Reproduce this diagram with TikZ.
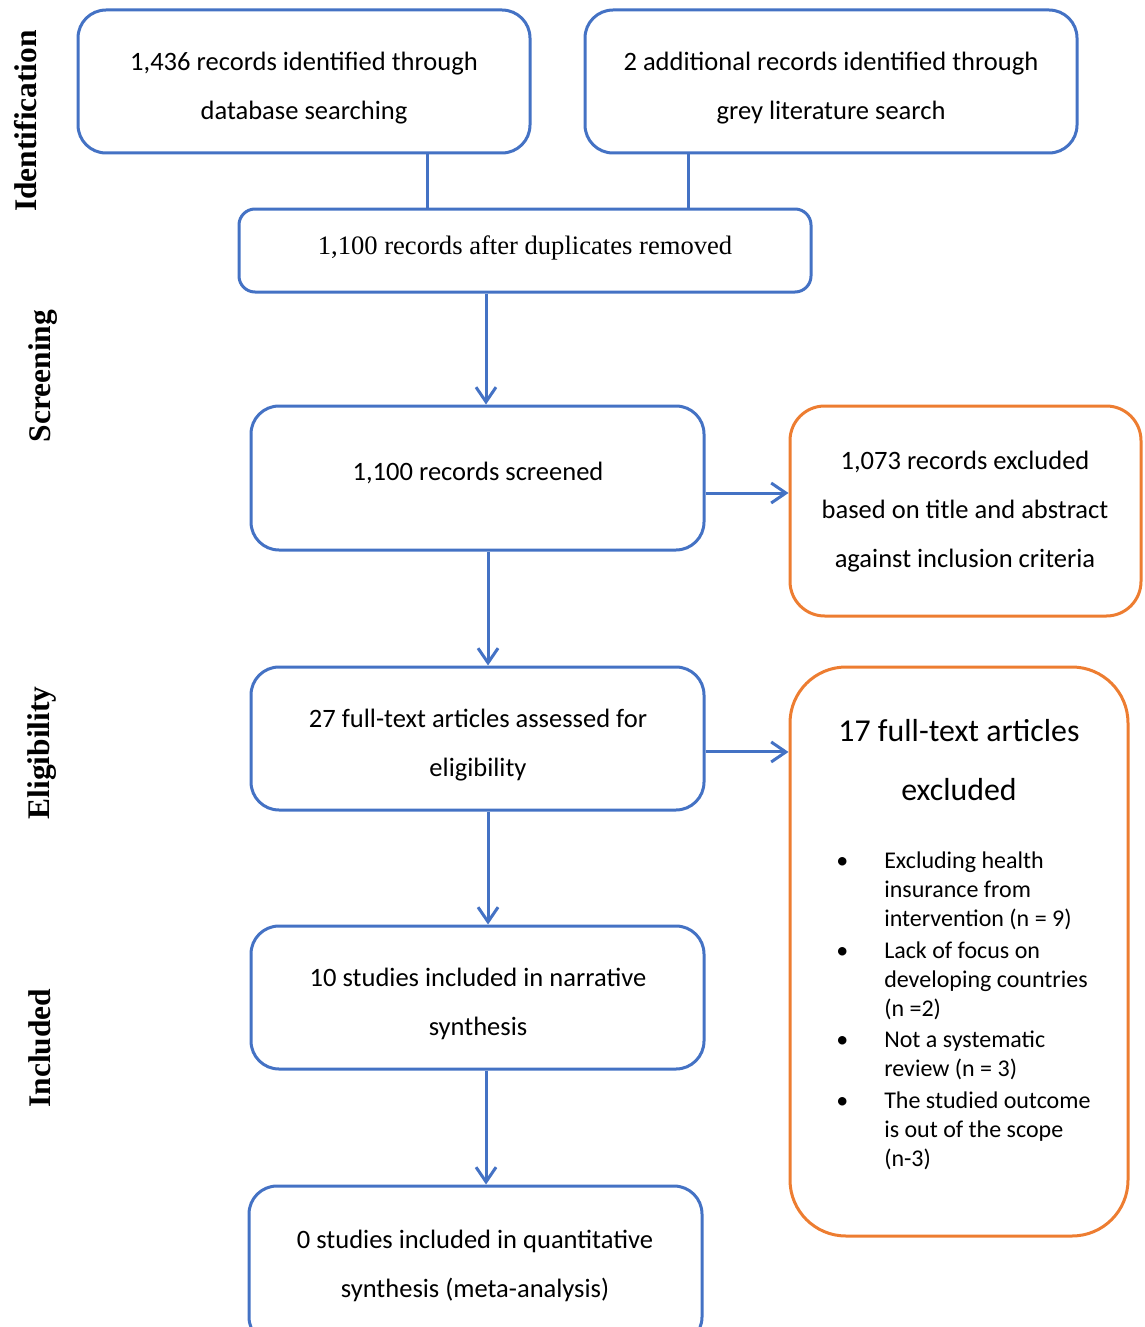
\documentclass[tikz,border=0pt]{standalone}
\usepackage{fontspec}
\setmainfont{Carlito}
\newfontfamily\timesf{Liberation Serif}
\usetikzlibrary{arrows.meta,fit}
\definecolor{pblue}{HTML}{4472C4}
\definecolor{porange}{HTML}{ED7D31}
\begin{document}
\begin{tikzpicture}[x=0.75pt,y=-0.75pt,
  bbox/.style={draw=pblue, line width=2.25pt, rounded corners=21pt, inner sep=0pt},
  obox/.style={draw=porange, line width=2.25pt, rounded corners=26pt, inner sep=0pt},
  txt/.style={align=center, inner sep=0pt, font=\fontsize{19.9}{36.75}\selectfont},
  ttxt/.style={align=center, inner sep=0pt, font=\timesf\fontsize{19.95}{24}\selectfont},
  side/.style={rotate=90, inner sep=0pt, font=\timesf\bfseries\fontsize{23.6}{28}\selectfont},
  link/.style={draw=pblue, line width=2.25pt},
  arr/.style={link, -{Straight Barb[length=11pt,width=15pt]}}
]
\useasboundingbox (0,0) rectangle (1145,1327);

% boxes
\node[bbox, fit={(78,10) (530,153)}] (A) {};
\node[bbox, fit={(585,10) (1077,153)}] (B) {};
\node[bbox, rounded corners=12pt, fit={(239,209) (811,292)}] (C) {};
\node[bbox, fit={(251,406) (704,550)}] (D) {};
\node[obox, fit={(790,406) (1141,616)}] (E) {};
\node[bbox, fit={(251,667) (704,810)}] (F) {};
\node[obox, rounded corners=42pt, fit={(790,667) (1128,1236)}] (G) {};
\node[bbox, fit={(251,926) (704,1069)}] (H) {};
\node[bbox, fit={(249,1186) (702,1345)}] (I) {};

% texts
\node[txt] (At) at (304,88.5) {1,436 records identified through\\database searching};
\node[txt] (Bt) at (831,88.5) {2 additional records identified through\\grey literature search};
\node[ttxt] (Ct) at (525,248) {1,100 records after duplicates removed};
\node[txt] (Dt) at (478,473) {1,100 records screened};
\node[txt] (Et) at (965,512) {1,073 records excluded\\based on title and abstract\\against inclusion criteria};
\node[txt] (Ft) at (478,745.5) {27 full-text articles assessed for\\eligibility};
\node[align=center, inner sep=0pt, font=\fontsize{23.9}{44.25}\selectfont] (Gt) at (959,760.5) {17 full-text articles\\excluded};
\node[anchor=north west, inner sep=0pt, font=\fontsize{18}{21.75}\selectfont] (Glist) at (836,848) {%
\begin{tabular}{@{}p{36pt}@{}l@{}}
\textbullet & Excluding health\\
 & insurance from\\
 & intervention (n = 9)\\[2pt]
\textbullet & Lack of focus on\\
 & developing countries\\
 & (n =2)\\[2pt]
\textbullet & Not a systematic\\
 & review (n = 3)\\[2pt]
\textbullet & The studied outcome\\
 & is out of the scope\\
 & (n-3)
\end{tabular}};
\node[txt] (Ht) at (478,1004) {10 studies included in narrative\\synthesis};
\node[txt] (It) at (475,1265.5) {0 studies included in quantitative\\synthesis (meta-analysis)};

% side labels
\node[side] (S1) at (26,121) {Identification};
\node[side] (S2) at (43,376) {Screening};
\node[side] (S3) at (42,753) {Eligibility};
\node[side] (S4) at (40,1048) {Included};

% connectors
\draw[link] ([xshift=92.25pt]A.south) -- ([xshift=92.25pt]A.south |- C.north);
\draw[link] ([xshift=-107.25pt]B.south) -- ([xshift=-107.25pt]B.south |- C.north);
\draw[arr] ([xshift=-29.25pt]C.south) -- ([xshift=-29.25pt]C.south |- D.north);
\draw[arr] ([yshift=-11.25pt]D.east) -- ([yshift=-11.25pt]D.east -| E.west);
\draw[arr] ([xshift=7.9pt]D.south) -- ([xshift=7.9pt]D.south |- F.north);
\draw[arr] ([yshift=-10.1pt]F.east) -- ([yshift=-10.1pt]F.east -| G.west);
\draw[arr] ([xshift=7.9pt]F.south) -- ([xshift=7.9pt]F.south |- H.north);
\draw[arr] ([xshift=6.4pt]H.south) -- ([xshift=6.4pt]H.south |- I.north);
\end{tikzpicture}
\end{document}
